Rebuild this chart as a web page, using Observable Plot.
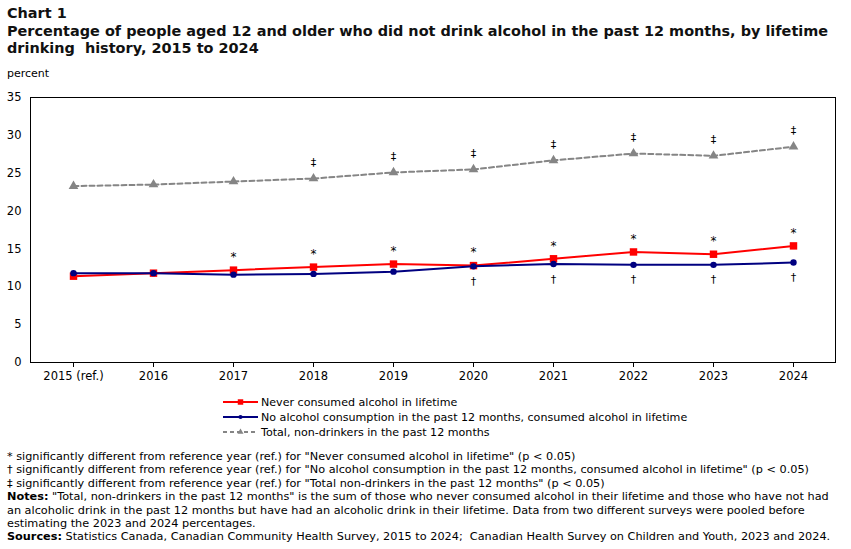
<!DOCTYPE html>
<html><head><meta charset="utf-8">
<script src="https://cdn.jsdelivr.net/npm/d3@7"></script>
<script src="https://cdn.jsdelivr.net/npm/@observablehq/plot@0.6"></script>
<style>
body{margin:0;width:851px;height:549px;position:relative;overflow:hidden;background:#fff;font-family:"DejaVu Sans",Verdana,sans-serif;color:#000}
#title{position:absolute;left:7px;top:5px;font-weight:bold;font-size:14.45px;line-height:17.5px;white-space:nowrap;color:#111}
#unit{position:absolute;left:7px;top:67px;font-size:11px}
#chart{position:absolute;left:0;top:85px}
#legend{position:absolute;left:0;top:392px}
#notes{position:absolute;left:7px;top:450px;font-size:11.27px;line-height:13.4px;white-space:nowrap}
</style></head><body>
<div id="title">Chart 1<br>Percentage of people aged 12 and older who did not drink alcohol in the past 12 months, by lifetime<br>drinking&nbsp; history, 2015 to 2024</div>
<div id="unit">percent</div>
<div id="chart"></div>
<svg id="legend" width="851" height="50"></svg>
<div id="notes">
* significantly different from reference year (ref.) for "Never consumed alcohol in lifetime" (p &lt; 0.05)<br>
† significantly different from reference year (ref.) for "No alcohol consumption in the past 12 months, consumed alcohol in lifetime" (p &lt; 0.05)<br>
‡ significantly different from reference year (ref.) for "Total non-drinkers in the past 12 months" (p &lt; 0.05)<br>
<b>Notes:</b> "Total, non-drinkers in the past 12 months" is the sum of those who never consumed alcohol in their lifetime and those who have not had<br>
an alcoholic drink in the past 12 months but have had an alcoholic drink in their lifetime. Data from two different surveys were pooled before<br>
estimating the 2023 and 2024 percentages.<br>
<b>Sources:</b> Statistics Canada, Canadian Community Health Survey, 2015 to 2024;&nbsp; Canadian Health Survey on Children and Youth, 2023 and 2024.
</div>
<script>
const years = ["2015 (ref.)","2016","2017","2018","2019","2020","2021","2022","2023","2024"];
const neverConsumed = [11.4,11.8,12.2,12.6,13.0,12.8,13.7,14.6,14.3,15.4];
const pastYearAbstain = [11.8,11.8,11.6,11.7,12.0,12.7,13.0,12.9,12.9,13.2];
const totalNonDrinkers = [23.3,23.5,23.9,24.3,25.1,25.5,26.7,27.6,27.3,28.5];
const sigNever = ["2017","2018","2019","2020","2021","2022","2023","2024"];
const sigAbstain = ["2020","2021","2022","2023","2024"];
const sigTotal = ["2018","2019","2020","2021","2022","2023","2024"];
const seriesNames = ["Never consumed alcohol in lifetime","No alcohol consumption in the past 12 months, consumed alcohol in lifetime","Total, non-drinkers in the past 12 months"];
const yTicks = [0,5,10,15,20,25,30,35];

const mk = vals => years.map((year,i)=>({year, value: vals[i]}));
const never = mk(neverConsumed), abst = mk(pastYearAbstain), total = mk(totalNonDrinkers);

const FONT = "DejaVu Sans, Verdana, sans-serif";
const GRAY = "#858585";
const chart = Plot.plot({
  width: 851, height: 302,
  marginLeft: 30, marginRight: 16, marginTop: 12, marginBottom: 25,
  style: {fontFamily: FONT, fontSize: "11.5px", color: "#000", background: "transparent"},
  x: {type: "point", domain: years, padding: 0.5, label: null, tickSize: 5, tickPadding: 4},
  y: {domain: [0,35], ticks: yTicks, label: null, tickSize: 0, tickPadding: 9},
  marks: [
    Plot.frame({stroke: "#000", strokeWidth: 1}),
    Plot.line(total, {x: "year", y: "value", stroke: GRAY, strokeWidth: 2, strokeDasharray: "5,3"}),
    Plot.dot(total, {x: "year", y: "value", symbol: "triangle", fill: GRAY, r: 3.6}),
    Plot.line(never, {x: "year", y: "value", stroke: "#ff0000", strokeWidth: 2}),
    Plot.dot(never, {x: "year", y: "value", symbol: "square", fill: "#ff0000", r: 4.2}),
    Plot.line(abst, {x: "year", y: "value", stroke: "#000080", strokeWidth: 2}),
    Plot.dot(abst, {x: "year", y: "value", symbol: "circle", fill: "#000080", r: 3.2}),
    Plot.text(never.filter(d => sigNever.includes(d.year)), {x: "year", y: "value", text: () => "*", dy: -13, fontSize: 12}),
    Plot.text(abst.filter(d => sigAbstain.includes(d.year)), {x: "year", y: "value", text: () => "†", dy: 15, fontSize: 11}),
    Plot.text(total.filter(d => sigTotal.includes(d.year)), {x: "year", y: "value", text: () => "‡", dy: -16, fontSize: 11})
  ]
});
document.getElementById("chart").appendChild(chart);

// legend
const lg = d3.select("#legend");
const items = [
  {name: seriesNames[0], color: "#ff0000", dash: null, sym: d3.symbolSquare, size: 30},
  {name: seriesNames[1], color: "#000080", dash: null, sym: d3.symbolCircle, size: 14},
  {name: seriesNames[2], color: GRAY, dash: "4,3", sym: d3.symbolTriangle, size: 16}
];
items.forEach((it, i) => {
  const y = 10 + i * 15;
  const g = lg.append("g");
  g.append("line").attr("x1", 223).attr("x2", 258).attr("y1", y).attr("y2", y)
    .attr("stroke", it.color).attr("stroke-width", 2).attr("stroke-dasharray", it.dash);
  g.append("path").attr("d", d3.symbol(it.sym, it.size)()).attr("transform", `translate(240.5,${y})`).attr("fill", it.color);
  g.append("text").attr("x", 261).attr("y", y).attr("dy", "0.35em")
    .attr("font-family", FONT).attr("font-size", "11.1px").text(it.name);
});
</script>
</body></html>
